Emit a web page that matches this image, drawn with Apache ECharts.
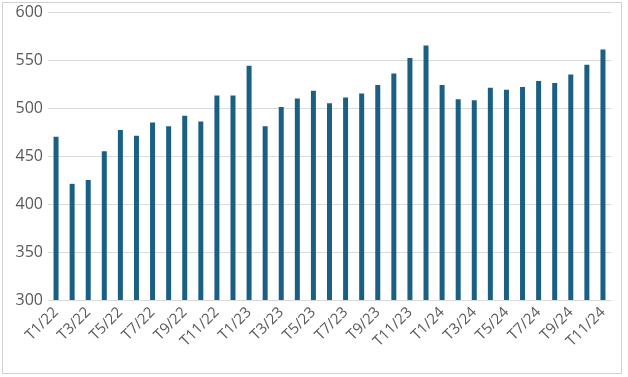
<!DOCTYPE html>
<html>
<head>
<meta charset="utf-8">
<script src="https://cdn.jsdelivr.net/npm/echarts@6/dist/echarts.min.js"></script>
<style>
  html, body { margin: 0; padding: 0; background: #fff; }
  #frame { position: absolute; left: 2px; top: 2px; width: 620px; height: 372px; border: 1px solid #d0d0d0; box-sizing: border-box; }
  #chart { position: absolute; left: 0; top: 0; width: 628px; height: 377px; }
</style>
</head>
<body>
<div id="frame"></div>
<div id="chart"></div>
<script>
const months = [
  'T1/22','T2/22','T3/22','T4/22','T5/22','T6/22','T7/22','T8/22','T9/22','T10/22','T11/22','T12/22',
  'T1/23','T2/23','T3/23','T4/23','T5/23','T6/23','T7/23','T8/23','T9/23','T10/23','T11/23','T12/23',
  'T1/24','T2/24','T3/24','T4/24','T5/24','T6/24','T7/24','T8/24','T9/24','T10/24','T11/24'
];
const values = [
  470, 421, 425, 455, 477, 471, 485, 481, 492, 486, 513, 513,
  544, 481, 501, 510, 518, 505, 511, 515, 524, 536, 552, 565,
  524, 509, 508, 521, 519, 522, 528, 526, 535, 545, 561
];

const chart = echarts.init(document.getElementById('chart'), null, { renderer: 'canvas' });

chart.setOption({
  animation: false,
  grid: { left: 48, right: 17, top: 12, bottom: 77 },
  xAxis: {
    type: 'category',
    data: months,
    axisLine: { lineStyle: { color: '#d9d9d9' } },
    axisTick: { show: false },
    axisLabel: {
      interval: 1,
      rotate: 45,
      color: '#595959',
      fontFamily: 'Open Sans',
      fontSize: 15,
      margin: 10
    }
  },
  yAxis: {
    type: 'value',
    min: 300,
    max: 600,
    interval: 50,
    axisLine: { show: false },
    axisTick: { show: false },
    splitLine: { lineStyle: { color: '#d9d9d9' } },
    axisLabel: {
      color: '#595959',
      fontFamily: 'Open Sans',
      fontSize: 16,
      margin: 5
    }
  },
  series: [{
    type: 'bar',
    data: values,
    barWidth: 5,
    itemStyle: { color: '#1a6085' }
  }]
});
</script>
</body>
</html>
